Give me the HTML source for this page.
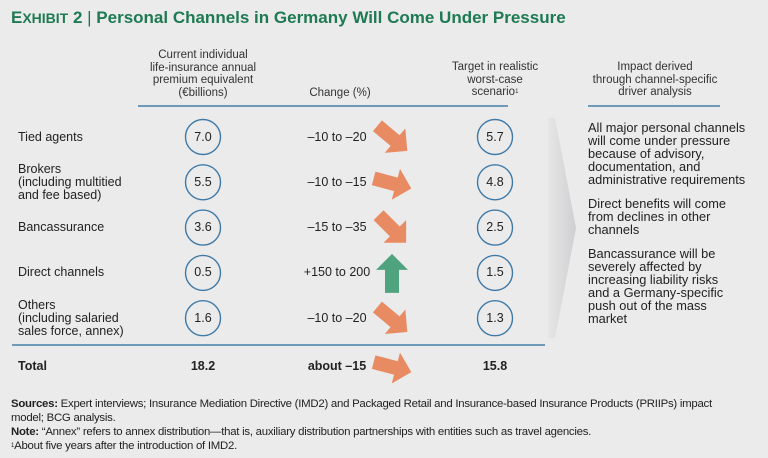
<!DOCTYPE html>
<html><head><meta charset="utf-8"><style>
body{margin:0;width:768px;height:458px;background:#ebebec;font-family:"Liberation Sans",sans-serif;color:#222;overflow:hidden;position:relative}
.a{position:absolute}
.t{font-size:12.5px;line-height:13px}
.h{text-align:center;font-size:11.5px;line-height:12.5px;color:#333}
.fn{font-size:11.4px;line-height:14px;letter-spacing:-0.25px;color:#222}
</style></head><body>
<div class="a" style="left:11px;top:8px;font-size:17px;font-weight:bold;color:#1e7a52;white-space:nowrap">E<span style="font-size:14px">XHIBIT</span> 2 <span style="font-weight:normal">|</span> Personal Channels in Germany Will Come Under Pressure</div>
<div class="a h" style="left:133px;top:49px;width:140px">Current individual<br>life-insurance annual<br>premium equivalent<br>(€billions)</div>
<div class="a h" style="left:290px;top:87px;width:100px">Change (%)</div>
<div class="a h" style="left:430px;top:61px;width:130px">Target in realistic<br>worst-case<br>scenario<span style="font-size:6px;vertical-align:top">1</span></div>
<div class="a h" style="left:585px;top:61px;width:140px">Impact derived<br>through channel-specific<br>driver analysis</div>
<div class="a" style="left:138px;top:105px;width:370px;height:2px;background:#6f99b8"></div>
<div class="a" style="left:588px;top:105px;width:132px;height:2px;background:#6f99b8"></div>
<div class="a" style="left:12px;top:344px;width:533px;height:2px;background:#6f99b8"></div>
<svg class="a" style="left:0;top:0" width="768" height="458" id="svg">
<defs><linearGradient id="g" x1="0" x2="1"><stop offset="0" stop-color="#e6e6e7"/><stop offset="1" stop-color="#cfcfd1"/></linearGradient></defs>
<polygon points="548,118 555,118 576,228 555,338 548,338" fill="url(#g)"/>
</svg>
<div class="a" style="left:588px;top:121px;width:178px;font-size:12.8px;line-height:13px;color:#222;white-space:nowrap">All major personal channels<br>will come under pressure<br>because of advisory,<br>documentation, and<br>administrative requirements<div style="height:11px"></div>Direct benefits will come<br>from declines in other<br>channels<div style="height:11px"></div>Bancassurance will be<br>severely affected by<br>increasing liability risks<br>and a Germany-specific<br>push out of the mass<br>market</div>
<div class="a fn" style="left:11px;top:397px;width:757px;white-space:nowrap"><b>Sources:</b> Expert interviews; Insurance Mediation Directive (IMD2) and Packaged Retail and Insurance-based Insurance Products (PRIIPs) impact<br>model; BCG analysis.<br><b>Note:</b> “Annex” refers to annex distribution—that is, auxiliary distribution partnerships with entities such as travel agencies.<br><span style="font-size:6px;vertical-align:top">1</span>About five years after the introduction of IMD2.</div>
<script>
const channels=["Tied agents","Brokers\n(including multitied\nand fee based)","Bancassurance","Direct channels","Others\n(including salaried\nsales force, annex)"];
const current=[7.0,5.5,3.6,0.5,1.6];
const changeLabels=["–10 to –20","–10 to –15","–15 to –35","+150 to 200","–10 to –20"];
const target=[5.7,4.8,2.5,1.5,1.3];
const arrowAngle=[40,15,45,-90,40];
const totalCurrent=18.2, totalChange="about –15", totalTarget=15.8, totalAngle=15;
const rowY=i=>137+i*45.3;
const svg=document.getElementById('svg');const NS="http://www.w3.org/2000/svg";
function txt(x,y,s,anchor,bold,name){const d=document.createElement('div');d.className='a t';


const lines=s.split('\n');d.innerHTML=lines.join('<br>');d.style.top=(y-lines.length*6.5)+'px';
if(anchor==='c'){d.style.left=(x-70)+'px';d.style.width='140px';d.style.textAlign='center'}else d.style.left=x+'px';
if(bold)d.style.fontWeight='bold';d.style.whiteSpace='nowrap';document.body.appendChild(d);}
function circ(cx,cy,v,name){const c=document.createElementNS(NS,'circle');c.setAttribute('cx',cx);c.setAttribute('cy',cy);c.setAttribute('r',17.5);c.setAttribute('fill','none');c.setAttribute('stroke','#3f79a6');c.setAttribute('stroke-width','1.4');


svg.appendChild(c);txt(cx,cy,v.toFixed(1),'c',false,name+'-value');}
function arrow(cx,cy,ang,name){const p=document.createElementNS(NS,'polygon');const up=ang===-90;
p.setAttribute('points','-19,-7 4,-7 4,-16 20,0 4,16 4,7 -19,7');p.setAttribute('fill',up?'#4fa47f':'#e98b62');
p.setAttribute('transform','translate('+cx+','+cy+') rotate('+ang+')');


svg.appendChild(p);}
channels.forEach((c,i)=>{const y=rowY(i);
txt(18,y,c,'l',false,'row-label-'+i);
circ(203,y,current[i],'current-circle-'+i);
txt(337,y,changeLabels[i],'c',false,'change-label-'+i);
arrow(392,y+1,arrowAngle[i],'change-arrow-'+i);
circ(495,y,target[i],'target-circle-'+i);});
txt(18,366,"Total",'l',true,'total-label');
txt(203,366,totalCurrent.toFixed(1),'c',true,'total-current');
txt(337,366,totalChange,'c',true,'total-change');
arrow(392,367,totalAngle,'total-arrow');
txt(495,366,totalTarget.toFixed(1),'c',true,'total-target');
</script>
</body></html>
